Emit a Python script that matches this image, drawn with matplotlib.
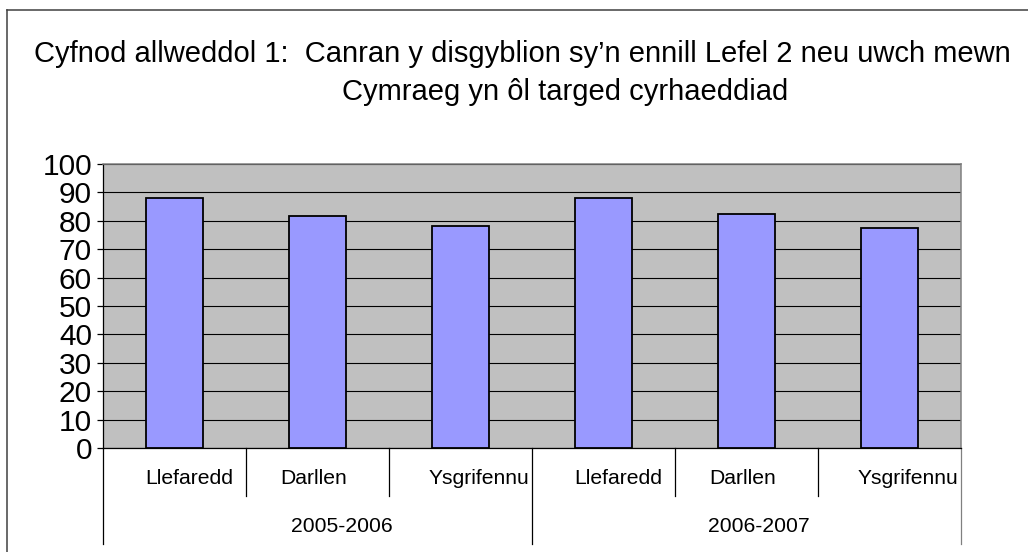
import matplotlib
matplotlib.use('Agg')
import matplotlib.pyplot as plt
from matplotlib.lines import Line2D
from matplotlib.transforms import blended_transform_factory
import numpy as np

plt.rcParams['font.family'] = ['Liberation Sans', 'DejaVu Sans']

title_line1 = 'Cyfnod allweddol 1:  Canran y disgyblion sy\u2019n ennill Lefel 2 neu uwch mewn'
title_line2 = 'Cymraeg yn \u00f4l targed cyrhaeddiad'
skills = ['Llefaredd', 'Darllen', 'Ysgrifennu', 'Llefaredd', 'Darllen', 'Ysgrifennu']
years = ['2005-2006', '2006-2007']
values = [87.9, 81.7, 78.0, 88.0, 82.4, 77.5]
y_ticks = list(range(0, 101, 10))

W, H = 1028, 552
fig = plt.figure(figsize=(W / 100, H / 100), dpi=100)
fig.patch.set_facecolor('white')

# plot area in pixels: x 103..961, y 164..448
ax = fig.add_axes([103 / W, (H - 448) / H, 858 / W, 284 / H])
ax.set_facecolor('#C0C0C0')

x = np.arange(len(values))
ax.bar(x, values, width=0.405, color='#9999FF', edgecolor='black', linewidth=1.3, zorder=3)

ax.set_xlim(-0.5, len(values) - 0.5)
ax.set_ylim(0, 100)
ax.set_yticks(y_ticks)
ax.set_yticklabels([str(t) for t in y_ticks], fontsize=21.5)
ax.tick_params(axis='y', direction='out', length=4.5, width=0.9, pad=3.5, color='black')
ax.set_xticks([])
ax.yaxis.grid(True, color='black', linewidth=0.8)
ax.set_axisbelow(True)

for side in ('top', 'right'):
    ax.spines[side].set_color('#808080')
    ax.spines[side].set_linewidth(1.1)
for side in ('left', 'bottom'):
    ax.spines[side].set_color('black')
    ax.spines[side].set_linewidth(0.9)

# multi-level category axis below the plot
trans = blended_transform_factory(ax.transData, ax.transAxes)
label_shift = [0.1, -0.03, 0.13, 0.1, -0.03, 0.13]
for i, name in enumerate(skills):
    ax.text(x[i] + label_shift[i], -0.108, name, transform=trans, ha='center', va='center',
            fontsize=15.2, clip_on=False)

n_groups = len(years)
per_group = len(skills) // n_groups
for k in range(len(skills) + 1):
    bound = k - 0.5
    low = -0.338 if k % per_group == 0 else -0.169
    col = '#808080' if k == len(skills) else 'black'
    ax.add_line(Line2D([bound, bound], [0, low], transform=trans, color=col,
                       linewidth=0.9, clip_on=False))

year_shift = [0.17, 0.09]
for g, yr in enumerate(years):
    centre = g * per_group + (per_group - 1) / 2
    ax.text(centre + year_shift[g], -0.278, yr, transform=trans, ha='center', va='center',
            fontsize=15.2, clip_on=False)

# title
fig.text(522 / W, 1 - 62 / H, title_line1, ha='center', va='baseline', fontsize=21)
fig.text(565 / W, 1 - 100 / H, title_line2, ha='center', va='baseline', fontsize=21)

# chart frame (right and bottom edges fall outside the picture)
fig.add_artist(Line2D([7 / W, 1.01], [1 - 10 / H, 1 - 10 / H], transform=fig.transFigure,
                      color='#404040', linewidth=1.1))
fig.add_artist(Line2D([7 / W, 7 / W], [-0.01, 1 - 10 / H], transform=fig.transFigure,
                      color='#404040', linewidth=1.1))

fig.savefig('out.png', dpi=100)
plt.close(fig)
